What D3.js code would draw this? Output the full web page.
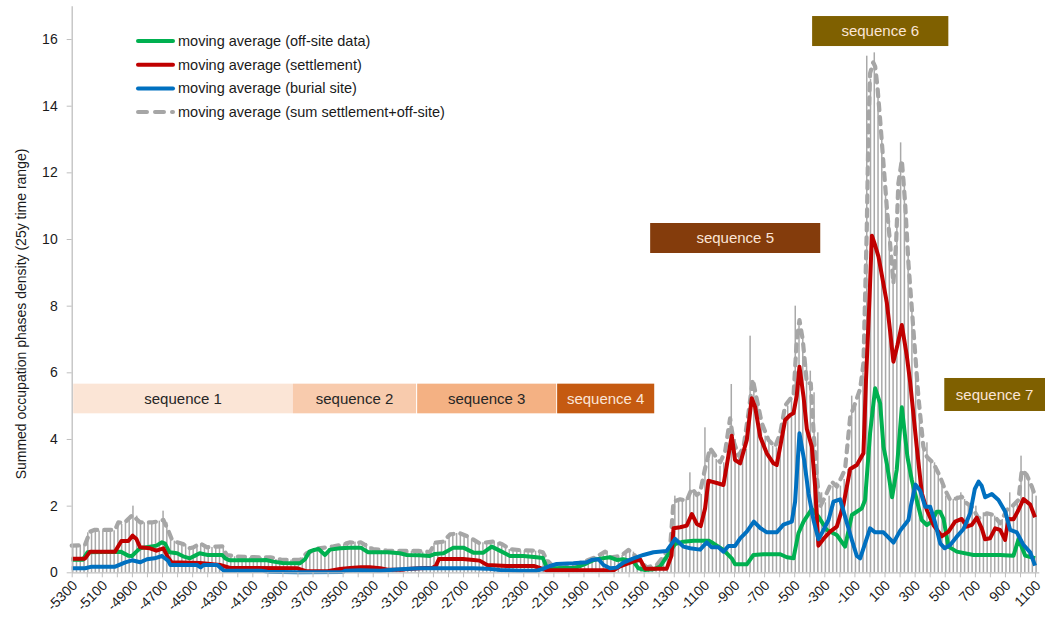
<!DOCTYPE html>
<html>
<head>
<meta charset="utf-8">
<script src="https://cdn.jsdelivr.net/npm/d3@7/dist/d3.min.js"></script>
<style>
  html, body { margin: 0; padding: 0; background: #ffffff; }
  svg { display: block; font-family: "Liberation Sans", Arial, sans-serif; }
</style>
</head>
<body>
<svg id="chart" width="1045" height="618"></svg>
<script>
// ---- data -------------------------------------------------------------
// 25-year bins, -5300 ... 1100
const binYears = d3.range(-5300, 1101, 25);

// summed occupation phases per 25y bin (bars)
const binDensity = [
  0.8, 0.82, 0.82, 0.85,   1.2, 1.25, 1.27, 1.25,   1.25, 1.27, 1.27, 1.26,   1.5, 1.45, 1.5, 1.6,
  2.0, 1.7, 1.55, 1.5,     1.5, 1.48, 1.5, 1.55,    1.85, 1.5, 1.0, 0.95,     0.9, 0.88, 0.85, 0.72,
  0.72, 0.8, 0.87, 0.85,   0.75, 0.76, 0.78, 0.78,  0.8, 0.55, 0.5, 0.48,     0.47, 0.48, 0.46, 0.45,
  0.45, 0.47, 0.46, 0.45,  0.45, 0.44, 0.4, 0.38,   0.37, 0.37, 0.38, 0.37,   0.37, 0.45, 0.57, 0.62,
  0.7, 0.72, 0.74, 0.6,    0.72, 0.78, 0.8, 0.82,   0.85, 0.88, 0.9, 0.92,    0.9, 0.88, 0.88, 0.78,
  0.7, 0.67, 0.66, 0.65,   0.65, 0.66, 0.64, 0.64,  0.64, 0.65, 0.64, 0.63,   0.63, 0.62, 0.61, 0.6,
  0.88, 0.9, 0.92, 0.95,   1.1, 1.15, 1.18, 1.16,   1.1, 1.05, 0.98, 0.92,    0.88, 0.9, 0.92, 0.92,
  0.92, 0.9, 0.85, 0.8,    0.7, 0.68, 0.67, 0.66,   0.66, 0.66, 0.66, 0.65,   0.65, 0.62, 0.4, 0.2,
  0.15, 0.14, 0.13, 0.14,  0.16, 0.2, 0.24, 0.3,    0.34, 0.38, 0.42, 0.47,   0.55, 0.6, 0.65, 0.48,
  0.45, 0.48, 0.52, 0.6,   0.7, 0.62, 0.5, 0.35,    0.2, 0.15, 0.18, 0.22,    0.3, 0.45, 0.6, 0.8,
  2.3, 2.2, 2.15, 2.2,     3.0, 2.4, 2.3, 2.35,     4.35, 3.4, 3.7, 3.4,      3.2, 3.3, 3.6, 5.65,
  4.0, 3.6, 3.5, 3.7,      7.1, 5.5, 5.0, 4.4,      4.1, 3.9, 3.8, 3.75,      4.1, 4.8, 5.0, 5.2,
  8.0, 7.4, 7.0, 6.2,      6.05, 5.4, 4.2, 2.4,     2.1, 2.3, 2.6, 2.7,       2.6, 2.8, 3.1, 5.3,
  5.0, 5.4, 6.0, 15.5,     14.8, 15.6, 14.5, 13.0,  11.5, 10.5, 9.0, 10.5,    12.9, 11.8, 9.5, 8.0,
  6.0, 4.5, 3.8, 3.9,      3.4, 3.3, 3.0, 2.6,      2.3, 2.2, 2.2, 2.3,       2.4, 2.2, 2.1, 2.0,
  2.0, 1.6, 1.8, 1.8,      1.7, 1.7, 1.5, 1.6,      1.9, 2.4, 2.0, 2.2,       3.5, 3.0, 2.8, 2.5,
  2.3
];

// moving averages: [year, value] vertices
const offsiteAvg = [
  [-5300,0.38],[-5225,0.38],[-5195,0.6],[-4975,0.62],[-4925,0.5],[-4900,0.49],[-4870,0.62],[-4846,0.72],
  [-4780,0.77],[-4737,0.8],[-4700,0.9],[-4680,0.86],[-4650,0.6],[-4600,0.57],[-4560,0.48],[-4515,0.42],
  [-4480,0.5],[-4450,0.57],[-4420,0.54],[-4395,0.52],[-4300,0.52],[-4280,0.42],[-4250,0.36],[-4050,0.36],
  [-4010,0.37],[-3960,0.32],[-3900,0.28],[-3783,0.27],[-3750,0.39],[-3720,0.62],[-3690,0.67],[-3660,0.7],
  [-3617,0.52],[-3584,0.68],[-3517,0.72],[-3450,0.74],[-3380,0.74],[-3330,0.6],[-3200,0.6],[-3120,0.57],
  [-3074,0.52],[-2990,0.51],[-2920,0.49],[-2886,0.55],[-2830,0.57],[-2764,0.74],[-2698,0.74],[-2631,0.59],
  [-2565,0.59],[-2510,0.77],[-2443,0.62],[-2388,0.49],[-2300,0.49],[-2211,0.45],[-2170,0.43],[-2144,0.15],
  [-2100,0.12],[-1950,0.14],[-1878,0.27],[-1830,0.37],[-1790,0.41],[-1723,0.45],[-1679,0.37],[-1635,0.39],
  [-1568,0.32],[-1535,0.12],[-1491,0.07],[-1435,0.09],[-1391,0.17],[-1347,0.47],[-1291,0.85],[-1236,0.92],
  [-1169,0.95],[-1070,0.95],[-1037,0.87],[-970,0.67],[-915,0.42],[-893,0.24],[-815,0.24],[-771,0.52],
  [-704,0.54],[-593,0.54],[-549,0.45],[-505,0.42],[-472,1.17],[-438,1.52],[-383,1.9],[-339,1.67],
  [-283,1.27],[-217,1.12],[-162,0.77],[-117,1.72],[-51,1.92],[-29,2.17],[4,4.17],[38,5.52],
  [71,5.07],[93,3.77],[115,3.27],[150,2.25],[181,3.07],[215,4.95],[252,3.47],[281,2.77],
  [314,2.17],[347,1.57],[381,1.42],[414,1.52],[447,1.82],[469,1.82],[492,1.6],[525,0.77],
  [580,0.62],[691,0.52],[868,0.52],[957,0.5],[990,0.99],[1035,0.5],[1100,0.42]
];

const settlementAvg = [
  [-5300,0.41],[-5212,0.41],[-5178,0.62],[-5012,0.62],[-4970,0.94],[-4924,0.94],[-4895,1.1],[-4870,1.0],
  [-4846,0.75],[-4780,0.72],[-4737,0.65],[-4691,0.72],[-4660,0.45],[-4636,0.3],[-4447,0.28],[-4315,0.22],
  [-4248,0.13],[-3800,0.12],[-3739,0.03],[-3600,0.03],[-3517,0.1],[-3450,0.13],[-3380,0.15],[-3320,0.15],
  [-3250,0.12],[-3200,0.08],[-3100,0.08],[-3070,0.1],[-2990,0.12],[-2900,0.14],[-2880,0.2],[-2860,0.4],
  [-2700,0.4],[-2630,0.37],[-2590,0.35],[-2540,0.22],[-2410,0.19],[-2230,0.19],[-2200,0.15],[-2144,0.06],
  [-1700,0.06],[-1657,0.18],[-1590,0.29],[-1524,0.39],[-1491,0.11],[-1347,0.11],[-1315,0.5],[-1302,1.32],
  [-1258,1.35],[-1214,1.4],[-1180,1.75],[-1147,1.45],[-1121,1.39],[-1092,1.92],[-1070,2.75],[-1048,2.72],
  [-1014,2.68],[-970,2.62],[-937,3.5],[-915,4.1],[-893,3.37],[-859,3.27],[-815,3.97],[-782,5.22],
  [-760,4.97],[-726,4.07],[-682,3.57],[-638,3.27],[-616,3.22],[-593,3.77],[-560,4.57],[-527,4.72],
  [-505,4.77],[-483,5.3],[-465,6.17],[-438,5.27],[-416,4.3],[-383,3.77],[-361,2.57],[-339,0.8],
  [-306,1.0],[-261,1.22],[-217,1.37],[-173,2.02],[-128,3.1],[-84,3.22],[-40,3.57],[-23,5.77],
  [0,8.19],[16,10.1],[37,9.82],[60,9.47],[115,8.1],[137,7.24],[159,6.32],[186,6.82],
  [215,7.42],[248,6.5],[270,5.72],[314,3.77],[348,2.37],[381,1.87],[425,1.42],[480,1.08],
  [525,1.22],[569,1.52],[613,1.6],[646,1.37],[680,1.42],[713,1.64],[746,1.32],[768,0.99],
  [801,1.02],[835,1.32],[868,1.27],[901,0.97],[923,1.6],[957,1.59],[990,1.87],[1023,2.2],
  [1068,2.03],[1100,1.65]
];

const burialAvg = [
  [-5300,0.12],[-5211,0.12],[-5167,0.17],[-5011,0.17],[-4944,0.3],[-4900,0.36],[-4844,0.3],[-4800,0.39],
  [-4750,0.42],[-4700,0.49],[-4660,0.35],[-4644,0.22],[-4467,0.22],[-4444,0.15],[-4422,0.22],[-4333,0.22],
  [-4289,0.05],[-4044,0.05],[-4000,0.02],[-3800,0.0],[-3500,0.01],[-3480,0.05],[-3380,0.06],[-3250,0.05],
  [-3119,0.09],[-2986,0.12],[-2764,0.12],[-2631,0.12],[-2543,0.11],[-2454,0.07],[-2321,0.05],[-2211,0.05],
  [-2170,0.1],[-2122,0.19],[-2078,0.25],[-1967,0.27],[-1878,0.3],[-1840,0.38],[-1800,0.39],[-1767,0.22],
  [-1723,0.12],[-1679,0.14],[-1635,0.29],[-1568,0.42],[-1502,0.52],[-1435,0.6],[-1347,0.64],[-1291,1.0],
  [-1236,0.77],[-1191,0.72],[-1125,0.68],[-1081,0.9],[-1048,0.75],[-1003,0.75],[-970,0.62],[-937,0.79],
  [-893,0.79],[-859,1.02],[-815,1.22],[-768,1.52],[-726,1.33],[-682,1.2],[-616,1.2],[-571,1.43],
  [-516,1.52],[-494,2.12],[-465,4.17],[-434,3.37],[-405,2.37],[-372,1.57],[-339,0.99],[-317,1.17],
  [-272,1.57],[-239,2.12],[-195,2.19],[-162,1.67],[-117,0.97],[-84,0.49],[-62,0.42],[-29,0.87],
  [4,1.32],[38,1.2],[93,1.2],[160,0.89],[204,1.25],[259,1.57],[274,1.97],[306,2.63],
  [337,2.45],[370,1.97],[403,1.97],[436,1.49],[470,0.87],[500,0.72],[536,0.82],[580,1.07],
  [625,1.3],[669,1.77],[700,2.5],[725,2.72],[745,2.6],[769,2.25],[813,2.35],[857,2.17],
  [902,1.82],[935,1.27],[979,1.2],[1023,0.82],[1068,0.6],[1100,0.2]
];

const sumAvg = [
  [-5300,0.8],[-5212,0.82],[-5178,1.22],[-5150,1.27],[-5012,1.27],[-4990,1.5],[-4950,1.48],[-4924,1.6],
  [-4895,1.72],[-4870,1.6],[-4846,1.5],[-4760,1.5],[-4737,1.52],[-4691,1.57],[-4660,1.27],[-4636,1.0],
  [-4600,0.9],[-4560,0.85],[-4515,0.72],[-4490,0.75],[-4447,0.87],[-4400,0.75],[-4340,0.77],[-4300,0.78],
  [-4270,0.52],[-4200,0.47],[-4050,0.45],[-3980,0.45],[-3900,0.37],[-3783,0.37],[-3739,0.57],[-3660,0.72],
  [-3600,0.75],[-3560,0.78],[-3517,0.82],[-3480,0.86],[-3450,0.9],[-3400,0.88],[-3380,0.9],[-3350,0.82],
  [-3300,0.7],[-3207,0.65],[-3074,0.64],[-2990,0.64],[-2920,0.61],[-2886,0.89],[-2830,0.92],[-2786,1.14],
  [-2720,1.17],[-2676,1.09],[-2631,0.98],[-2590,0.87],[-2540,0.9],[-2500,0.92],[-2443,0.85],[-2388,0.69],
  [-2300,0.66],[-2211,0.65],[-2170,0.6],[-2144,0.37],[-2100,0.17],[-2030,0.14],[-1967,0.22],[-1900,0.32],
  [-1856,0.39],[-1812,0.47],[-1756,0.62],[-1723,0.45],[-1679,0.47],[-1635,0.55],[-1601,0.67],[-1568,0.55],
  [-1524,0.32],[-1480,0.15],[-1413,0.22],[-1369,0.47],[-1324,0.77],[-1302,2.12],[-1258,2.19],[-1214,2.15],
  [-1180,2.52],[-1147,2.32],[-1125,2.4],[-1092,3.12],[-1059,3.72],[-1025,3.5],[-992,3.3],[-959,3.62],
  [-926,4.62],[-904,3.95],[-870,3.5],[-837,3.75],[-804,4.77],[-775,5.79],[-749,5.2],[-715,4.47],
  [-671,3.97],[-627,3.77],[-593,4.17],[-560,5.0],[-527,5.2],[-505,5.27],[-483,6.97],[-465,7.57],
  [-443,6.97],[-416,5.67],[-390,5.67],[-372,4.27],[-350,2.87],[-328,1.97],[-294,2.27],[-250,2.72],
  [-217,2.57],[-184,2.87],[-162,3.1],[-128,4.67],[-95,5.07],[-62,5.5],[-40,6.27],[-18,10.27],
  [-7,13.27],[4,14.97],[25,15.3],[38,15.17],[53,14.57],[71,13.57],[93,12.27],[115,10.97],
  [137,9.87],[159,8.67],[177,9.88],[192,11.67],[215,12.37],[237,11.07],[259,9.27],[292,7.27],
  [325,5.27],[358,3.77],[381,3.47],[425,3.27],[469,2.87],[503,2.47],[536,2.17],[580,2.22],
  [613,2.27],[646,2.07],[680,1.97],[724,1.62],[779,1.77],[824,1.72],[868,1.47],[912,1.87],
  [946,1.97],[990,2.17],[1012,3.07],[1045,2.92],[1079,2.57],[1100,2.3]
];

// x-axis ticks (every 100 y) and labelled years (every 200 y)
const xTickYears = d3.range(-5300, 1101, 100);
const yTickValues = [0, 2, 4, 6, 8, 10, 12, 14, 16];

// archaeological sequences: [label, fromYear, toYear, lowValue, highValue]
const sequences = [
  ["sequence 1", -5290, -3830, 4.77, 5.66],
  ["sequence 2", -3830, -3012, 4.77, 5.66],
  ["sequence 3", -3005, -2081, 4.77, 5.66],
  ["sequence 4", -2075, -1430, 4.77, 5.66],
  ["sequence 5", -1457, -327, 9.58, 10.48],
  ["sequence 6", -381, 524, 15.79, 16.69],
  ["sequence 7", 497, 1170, 4.84, 5.83]
];
const sequenceFill = ["#fbe5d6", "#f8cbad", "#f4b183", "#c55a11", "#843c0c", "#7f6000", "#7f6000"];
const sequenceText = ["#262626", "#262626", "#262626", "#fbe5d6", "#fbe5d6", "#fbe5d6", "#fbe5d6"];

const legendItems = [
  ["moving average (off-site data)", "#00b050", null],
  ["moving average (settlement)", "#c00000", null],
  ["moving average (burial site)", "#0070c0", null],
  ["moving average (sum settlement+off-site)", "#a6a6a6", "9,8"]
];

// ---- layout -----------------------------------------------------------
const svg = d3.select("#chart");
const x = d3.scaleLinear().domain([-5300, 1125]).range([71.7, 1038.8]);
const y = d3.scaleLinear().domain([0, 17]).range([572.3, 5.7]);
const textColor = "#1a1a1a";
const axisColor = "#bfbfbf";
const font = "'Liberation Sans', Arial, sans-serif";

// bars
svg.append("g").selectAll("rect")
  .data(binYears.map((yr, i) => [yr, binDensity[i]]))
  .join("rect")
  .attr("x", d => x(d[0]) + 0.3)
  .attr("width", 1.5)
  .attr("y", d => y(d[1]))
  .attr("height", d => y(0) - y(d[1]))
  .attr("fill", "#a9a9a9");

// sequence boxes
const seqG = svg.append("g");
sequences.forEach((s, i) => {
  const x0 = x(s[1]), x1 = x(s[2]), yTop = y(s[4]), yBot = y(s[3]);
  seqG.append("rect")
    .attr("x", x0).attr("y", yTop)
    .attr("width", x1 - x0).attr("height", yBot - yTop)
    .attr("fill", sequenceFill[i]);
  seqG.append("text")
    .attr("x", (x0 + Math.min(x1, 1045)) / 2)
    .attr("y", (yTop + yBot) / 2)
    .attr("dy", "0.35em")
    .attr("text-anchor", "middle")
    .attr("font-size", 15)
    .attr("fill", sequenceText[i])
    .text(s[0]);
});

// moving-average lines
const line = d3.line().x(d => x(d[0])).y(d => y(d[1]));
const lineG = svg.append("g").attr("fill", "none")
  .attr("stroke-linejoin", "round");

lineG.append("path").datum(sumAvg)
  .attr("d", line)
  .attr("stroke", "#a6a6a6").attr("stroke-width", 4.2)
  .attr("stroke-dasharray", "7,7").attr("stroke-linecap", "round");
lineG.append("path").datum(offsiteAvg)
  .attr("d", line).attr("stroke", "#00b050").attr("stroke-width", 4);
lineG.append("path").datum(settlementAvg)
  .attr("d", line).attr("stroke", "#c00000").attr("stroke-width", 4);
lineG.append("path").datum(burialAvg)
  .attr("d", line).attr("stroke", "#0070c0").attr("stroke-width", 4);

// x axis
const xAxis = svg.append("g")
  .attr("transform", `translate(0,${y(0)})`)
  .call(d3.axisBottom(x)
    .tickValues(xTickYears)
    .tickSize(5)
    .tickSizeOuter(0)
    .tickFormat(d => ((d + 5300) % 200 === 0 ? String(d) : "")));
xAxis.select(".domain").attr("stroke", axisColor).attr("stroke-width", 1.3);
xAxis.selectAll(".tick line").attr("stroke", axisColor);
xAxis.selectAll(".tick text")
  .attr("font-size", 14)
  .attr("font-family", font)
  .attr("fill", textColor)
  .attr("text-anchor", "end")
  .attr("dy", null)
  .attr("y", 0)
  .attr("transform", "translate(6,14) rotate(-45)");

// y axis
const yAxis = svg.append("g")
  .attr("transform", `translate(${x(-5300)},0)`)
  .call(d3.axisLeft(y)
    .tickValues(yTickValues)
    .tickSize(5)
    .tickSizeOuter(0)
    .tickFormat(d3.format("d")));
yAxis.select(".domain").attr("stroke", axisColor).attr("stroke-width", 1.3);
yAxis.selectAll(".tick line").attr("stroke", axisColor);
yAxis.selectAll(".tick text")
  .attr("font-size", 14)
  .attr("font-family", font)
  .attr("fill", textColor)
  .attr("x", -14);

svg.append("text")
  .attr("transform", "translate(26,314) rotate(-90)")
  .attr("text-anchor", "middle")
  .attr("font-size", 14)
  .attr("fill", textColor)
  .text("Summed occupation phases density (25y time range)");

// legend
const legend = svg.append("g");
legendItems.forEach((item, i) => {
  const ly = 41 + i * 23.7;
  legend.append("line")
    .attr("x1", 138).attr("x2", 173).attr("y1", ly).attr("y2", ly)
    .attr("stroke", item[1]).attr("stroke-width", 4)
    .attr("stroke-linecap", "round")
    .attr("stroke-dasharray", item[2]);
  legend.append("text")
    .attr("x", 178).attr("y", ly).attr("dy", "0.35em")
    .attr("font-size", 14.5).attr("fill", textColor)
    .text(item[0]);
});
</script>
</body>
</html>
